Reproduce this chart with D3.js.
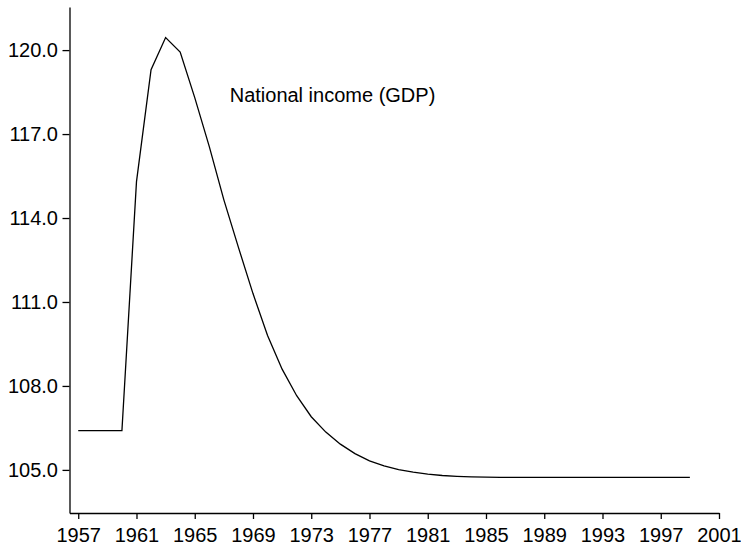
<!DOCTYPE html>
<html>
<head>
<meta charset="utf-8">
<script src="https://cdn.jsdelivr.net/npm/d3@7/dist/d3.min.js"></script>
<style>
  html, body { margin: 0; padding: 0; background: #fff; }
  svg { display: block; }
  text { font-family: "Liberation Sans", Arial, Helvetica, sans-serif; }
</style>
</head>
<body>
<svg id="chart" width="741" height="547"></svg>
<script>
// ---- data ----
const years = d3.range(1957, 2000);
const gdp = [
  106.40, 106.40, 106.40, 106.40, 115.30, 119.30, 120.45, 119.93, 118.30, 116.55,
  114.65, 112.95, 111.30, 109.80, 108.60, 107.65, 106.90, 106.35, 105.92, 105.58,
  105.32, 105.14, 105.01, 104.92, 104.85, 104.80, 104.77, 104.75, 104.74, 104.73,
  104.73, 104.73, 104.73, 104.73, 104.73, 104.73, 104.73, 104.73, 104.73, 104.73,
  104.73, 104.73, 104.73
];
const xTicks = d3.range(1957, 2002, 4);
const yTicks = [105, 108, 111, 114, 117, 120];
const seriesLabel = "National income (GDP)";
const labelAt = { year: 1967.4, value: 118.15 };

// ---- layout ----
const svg = d3.select("#chart");
const x = d3.scaleLinear().domain([1956.4, 2001]).range([69.5, 719]);
const y = d3.scaleLinear().domain([103.46, 121.54]).range([513, 7]);
const fontSize = 20;

const xAxis = svg.append("g")
  .attr("transform", `translate(0,${y.range()[0]})`)
  .call(d3.axisBottom(x).tickValues(xTicks).tickFormat(d3.format("d"))
    .tickSize(6).tickSizeOuter(0).tickPadding(8.5));

const yAxis = svg.append("g")
  .attr("transform", `translate(${x.range()[0]},0)`)
  .call(d3.axisLeft(y).tickValues(yTicks).tickFormat(d3.format(".1f"))
    .tickSize(7).tickSizeOuter(0).tickPadding(4.5));

[xAxis, yAxis].forEach(g => {
  g.selectAll("path.domain").attr("stroke", "#000").attr("stroke-width", 1.3);
  g.selectAll(".tick line").attr("stroke", "#000").attr("stroke-width", 1.3);
  g.selectAll(".tick text")
    .attr("fill", "#000")
    .style("font-size", fontSize + "px")
    .style("font-family", '"Liberation Sans", Arial, Helvetica, sans-serif');
});

const line = d3.line()
  .x((d, i) => x(years[i]))
  .y(d => y(d));

svg.append("path")
  .datum(gdp)
  .attr("fill", "none")
  .attr("stroke", "#000")
  .attr("stroke-width", 1.3)
  .attr("stroke-linejoin", "miter")
  .attr("d", line);

svg.append("text")
  .attr("x", x(labelAt.year))
  .attr("y", y(labelAt.value))
  .attr("fill", "#000")
  .style("font-size", fontSize + "px")
  .text(seriesLabel);
</script>
</body>
</html>
